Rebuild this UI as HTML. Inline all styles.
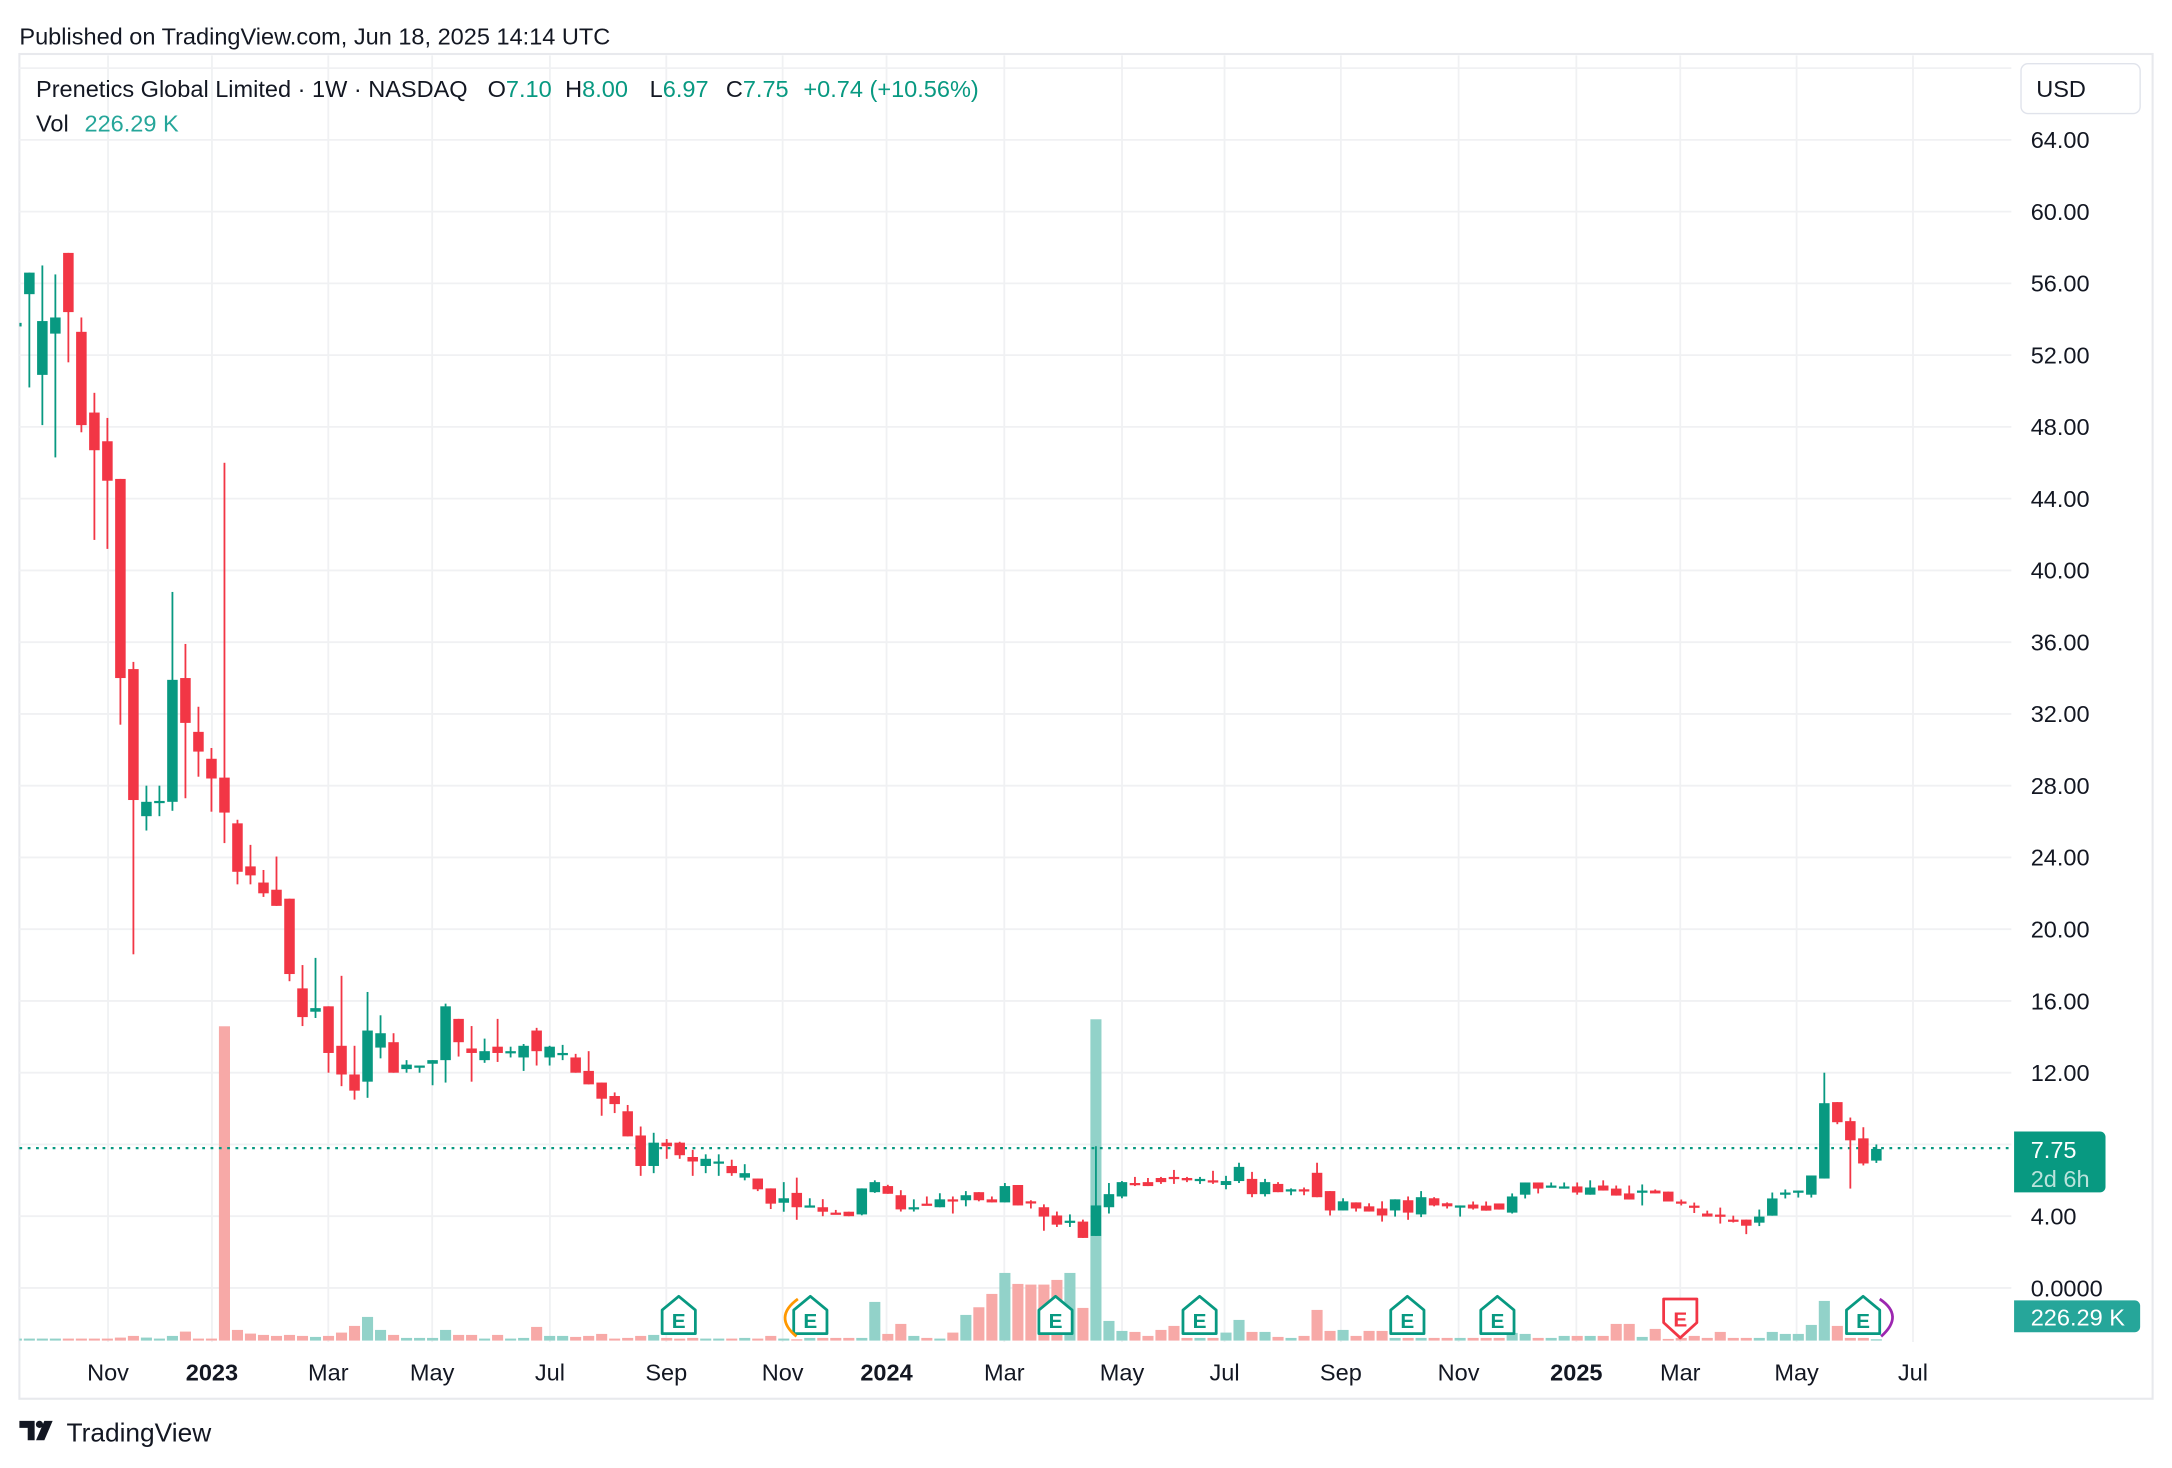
<!DOCTYPE html>
<html><head><meta charset="utf-8"><style>
html,body{margin:0;padding:0;background:#fff;}
svg{display:block;font-family:"Liberation Sans",sans-serif;}
</style></head><body>
<svg id="s" width="2172" height="1468" viewBox="0 0 1568 1060" preserveAspectRatio="none" xmlns="http://www.w3.org/2000/svg">
<defs><clipPath id="pane"><rect x="14" y="40" width="1438" height="930"/></clipPath></defs>
<rect width="1568" height="1060" fill="#fff"/>
<text x="14" y="32" font-size="17" fill="#131722">Published on TradingView.com, Jun 18, 2025 14:14 UTC</text>
<rect x="14" y="39" width="1540" height="971" fill="none" stroke="#e8e9ed" stroke-width="1.5"/>
<g id="grid"></g>
<g id="vol" clip-path="url(#pane)"></g>
<line x1="14" y1="829" x2="1452" y2="829" stroke="#089981" stroke-width="1.6" stroke-dasharray="2 4"/>
<g id="cand" clip-path="url(#pane)"></g>
<g id="marks"></g>
<g id="axis" font-size="17" fill="#131722"></g>
<text x="26" y="70" font-size="17" fill="#131722">Prenetics Global Limited · 1W · NASDAQ</text>
<text x="352" y="70" font-size="17" fill="#131722">O<tspan fill="#089981">7.10</tspan></text>
<text x="408" y="70" font-size="17" fill="#131722">H<tspan fill="#089981">8.00</tspan></text>
<text x="469" y="70" font-size="17" fill="#131722">L<tspan fill="#089981">6.97</tspan></text>
<text x="524" y="70" font-size="17" fill="#131722">C<tspan fill="#089981">7.75</tspan></text>
<text x="580" y="70" font-size="17" fill="#089981">+0.74 (+10.56%)</text>
<text x="26" y="95" font-size="17" fill="#131722">Vol</text>
<text x="61" y="95" font-size="17" fill="#26a69a">226.29 K</text>
<rect x="1459" y="46" width="86" height="36" rx="5" fill="#fff" stroke="#e0e3eb"/>
<text x="1470" y="70" font-size="17" fill="#131722">USD</text>
<path d="M1454 817 H1516 a4 4 0 0 1 4 4 V857 a4 4 0 0 1 -4 4 H1454Z" fill="#089981"/>
<text x="1466" y="836" font-size="17" fill="#fff">7.75</text>
<text x="1466" y="857" font-size="17" fill="#fff" fill-opacity="0.72">2d 6h</text>
<path d="M1454 939 H1541 a4 4 0 0 1 4 4 V958 a4 4 0 0 1 -4 4 H1454Z" fill="#26a69a"/>
<text x="1466" y="957" font-size="17" fill="#fff">226.29 K</text>
<g transform="translate(14,1024)" fill="#131722">
<path d="M0 2 H11 V16 H6 V7 H0Z"/><circle cx="14.5" cy="4.5" r="2.6"/><path d="M18 2 H24 L18 16 H12Z"/>
</g>
<text x="48" y="1041" font-size="19" fill="#131722">TradingView</text>
</svg>
<script>
var NS="http://www.w3.org/2000/svg";
function el(p,t,a,txt){var e=document.createElementNS(NS,t);for(var k in a)e.setAttribute(k,a[k]);if(txt!==undefined)e.textContent=txt;document.getElementById(p).appendChild(e);return e;}
function Y(p){return 930-p*12.953;}
for(var p=0;p<=68;p+=4){el("grid","line",{x1:14,x2:1452,y1:Y(p),y2:Y(p),stroke:"#f0f1f3","stroke-width":1.3});}
var months=[[78,"Nov",0],[153,"2023",1],[237,"Mar",0],[312,"May",0],[397,"Jul",0],[481,"Sep",0],[565,"Nov",0],[640,"2024",1],[725,"Mar",0],[810,"May",0],[884,"Jul",0],[968,"Sep",0],[1053,"Nov",0],[1138,"2025",1],[1213,"Mar",0],[1297,"May",0],[1381,"Jul",0]];
months.forEach(function(m){el("grid","line",{x1:m[0],x2:m[0],y1:40,y2:969,stroke:"#f0f1f3","stroke-width":1.3});
el("axis","text",{x:m[0],y:997,"text-anchor":"middle","font-weight":m[2]?"bold":"normal"},m[1]);});
for(var p=4;p<=64;p+=4){if(p==8)continue;el("axis","text",{x:1466,y:Y(p)+6},p.toFixed(2));}
el("axis","text",{x:1466,y:936},"0.0000");
var D=[[53.6,53.9,53.5,53.8],[55.4,56.6,50.2,56.6],[50.9,57.0,48.1,53.9],[53.2,56.5,46.3,54.1],[57.7,57.7,51.6,54.4],[53.3,54.1,47.7,48.1],[48.8,49.9,41.7,46.7],[47.2,48.5,41.2,45.0],[45.1,45.1,31.4,34.0],[34.5,34.9,18.6,27.2],
[26.3,28.0,25.5,27.1],[27.1,28.0,26.3,27.15],[27.1,38.8,26.6,33.9],[34.0,35.9,27.3,31.5],[31.0,32.4,28.5,29.9],[29.5,30.1,26.55,28.4],[28.45,46.0,24.8,26.5],[25.9,26.1,22.5,23.2],[23.5,24.7,22.5,23.0],[22.6,23.3,21.8,22.0],
[22.2,24.05,21.3,21.3],[21.7,21.7,17.1,17.5],[16.7,18.0,14.6,15.1],[15.4,18.4,15.05,15.6],[15.7,15.7,12.0,13.1],[13.5,17.4,11.25,11.9],[11.9,13.5,10.5,11.0],[11.5,16.5,10.6,14.35],[13.4,15.2,12.8,14.2],[13.7,14.2,12.0,12.0],
[12.2,12.7,12.0,12.45],[12.3,12.4,12.0,12.4],[12.5,12.7,11.3,12.7],[12.7,15.85,11.45,15.7],[15.0,15.0,12.9,13.7],[13.35,14.6,11.5,13.1],[12.7,13.9,12.55,13.2],[13.45,15.0,12.6,13.1],[13.15,13.45,12.85,13.2],[12.85,13.6,12.1,13.5],
[14.35,14.5,12.4,13.2],[12.85,13.5,12.4,13.45],[13.0,13.55,12.7,13.1],[12.85,13.05,12.0,12.0],[12.1,13.2,11.35,11.35],[11.45,11.45,9.6,10.55],[10.7,10.9,9.75,10.25],[9.85,10.2,8.45,8.45],[8.5,9.0,6.25,6.8],[6.8,8.65,6.4,8.1],
[8.1,8.3,7.2,7.9],[8.1,8.15,7.2,7.4],[7.3,7.7,6.25,7.05],[6.8,7.45,6.4,7.2],[6.95,7.45,6.25,7.05],[6.8,7.15,6.25,6.4],[6.15,6.9,6.0,6.4],[6.1,6.1,5.4,5.5],[5.55,5.55,4.4,4.7],[4.75,5.9,4.25,5.0],
[5.3,6.15,3.8,4.5],[4.5,5.0,4.5,4.6],[4.5,4.95,4.0,4.25],[4.2,4.35,4.1,4.1],[4.25,4.25,4.0,4.0],[4.1,5.55,4.05,5.55],[5.34,6.0,5.3,5.9],[5.68,5.75,5.25,5.25],[5.17,5.45,4.26,4.38],[4.38,4.94,4.26,4.5],
[4.7,5.1,4.6,4.6],[4.5,5.28,4.5,4.94],[4.94,5.1,4.15,4.83],[4.89,5.4,4.55,5.17],[5.34,5.34,4.83,4.89],[4.94,5.1,4.77,4.77],[4.77,5.85,4.77,5.68],[5.74,5.74,4.6,4.6],[4.83,4.89,4.43,4.72],[4.5,4.66,3.19,3.98],
[4.04,4.26,3.4,3.53],[3.64,4.1,3.4,3.75],[3.7,3.81,2.79,2.79],[2.9,7.9,2.9,4.6],[4.5,5.85,4.15,5.23],[5.1,5.96,5.0,5.9],[5.85,6.19,5.68,5.74],[5.9,6.13,5.68,5.68],[6.13,6.19,5.8,5.9],[6.19,6.58,5.8,6.08],
[6.13,6.19,5.9,6.0],[6.0,6.19,5.8,6.08],[6.0,6.53,5.8,5.9],[5.74,6.25,5.5,5.96],[5.96,6.98,5.85,6.75],[6.08,6.47,5.06,5.23],[5.23,6.08,5.1,5.9],[5.8,5.9,5.34,5.34],[5.4,5.55,5.17,5.5],[5.5,5.6,5.17,5.4],
[6.42,6.98,5.06,5.06],[5.4,5.4,4.04,4.32],[4.32,5.0,4.32,4.83],[4.77,4.77,4.26,4.43],[4.55,4.72,4.26,4.26],[4.43,4.83,3.7,4.04],[4.32,4.94,3.98,4.94],[4.89,5.1,3.8,4.2],[4.1,5.4,3.95,5.06],[5.0,5.06,4.55,4.6],
[4.72,4.77,4.43,4.55],[4.5,4.6,3.98,4.6],[4.65,4.82,4.37,4.43],[4.59,4.82,4.31,4.31],[4.71,4.71,4.37,4.37],[4.2,5.27,4.15,5.1],[5.2,5.88,4.99,5.88],[5.88,5.88,5.27,5.54],[5.6,5.88,5.6,5.71],[5.54,5.88,5.54,5.66],
[5.66,5.88,5.2,5.32],[5.2,6.0,5.2,5.6],[5.71,6.0,5.43,5.43],[5.54,5.71,5.15,5.15],[5.27,5.71,4.93,4.93],[5.32,5.77,4.6,5.43],[5.43,5.49,5.27,5.27],[5.37,5.37,4.82,4.82],[4.82,4.93,4.6,4.71],[4.59,4.76,4.18,4.48],
[4.15,4.31,3.98,3.98],[4.09,4.48,3.59,3.98],[3.81,4.03,3.65,3.7],[3.81,3.81,3.0,3.47],[3.64,4.37,3.45,3.98],[4.03,5.32,4.03,4.99],[5.2,5.49,4.99,5.32],[5.32,5.43,5.04,5.43],[5.2,6.27,5.04,6.27],[6.1,12.0,6.1,10.3],
[10.36,10.36,9.13,9.24],[9.3,9.5,5.54,8.23],[8.34,8.96,6.83,6.94],[7.10,8.00,6.97,7.75]];
var V=[6,6,6,6,6,6,6,6,9,14,9,6,14,27,6,6,943,32,21,17,14,17,14,11,14,24,44,71,32,17,8,8,8,32,17,17,6,17,6,8,41,14,14,11,14,20,6,8,14,17,8,6,8,6,6,6,8,6,14,6,4,8,8,8,8,8,116,20,50,14,8,6,24,77,100,140,203,170,168,168,182,203,98,964,59,29,26,14,32,44,8,8,8,24,62,26,26,11,8,14,92,29,32,14,29,29,8,8,8,8,8,8,8,8,8,23,20,8,8,14,14,14,14,50,50,11,35,5,8,14,8,26,8,8,8,26,20,20,47,119,44,8,8,4];
for(var i=0;i<D.length;i++){
 var x=11.8+i*9.39,d=D[i],up=d[3]>=d[0];
 var col=up?"#089981":"#f23645";
 var vh=V[i]/4.155;
 el("vol","rect",{x:x-4,y:968-vh,width:8,height:vh,fill:up?"#92d2c9":"#f7a9a7"});
 el("cand","rect",{x:x-0.65,y:Y(d[1]),width:1.3,height:Math.max(1,Y(d[2])-Y(d[1])),fill:col});
 var t=Y(Math.max(d[0],d[3])),b=Y(Math.min(d[0],d[3]));
 el("cand","rect",{x:x-3.8,y:t,width:7.6,height:Math.max(1.6,b-t),fill:col});
}
function E(x,red){
 if(!red){el("marks","path",{d:"M"+x+" 936 L"+(x+12)+" 946 V963 H"+(x-12)+" V946Z",fill:"#fff",stroke:"#089981","stroke-width":2,"stroke-linejoin":"round"});
  el("marks","text",{x:x,y:959,"text-anchor":"middle","font-size":15,"font-weight":"bold",fill:"#089981"},"E");}
 else{el("marks","path",{d:"M"+(x-12)+" 938 H"+(x+12)+" V955 L"+x+" 966 L"+(x-12)+" 955Z",fill:"#fff",stroke:"#f23645","stroke-width":2,"stroke-linejoin":"round"});
  el("marks","text",{x:x,y:958,"text-anchor":"middle","font-size":15,"font-weight":"bold",fill:"#f23645"},"E");}
}
[490,585,762,866,1016,1081,1345].forEach(function(x){E(x,false);});
E(1213,true);
el("marks","path",{d:"M576 938 Q558 951 575 965",fill:"none",stroke:"#ff9800","stroke-width":2});
el("marks","path",{d:"M1357 938 Q1375 950 1358 965",fill:"none",stroke:"#9c27b0","stroke-width":2});
</script>
</body></html>
